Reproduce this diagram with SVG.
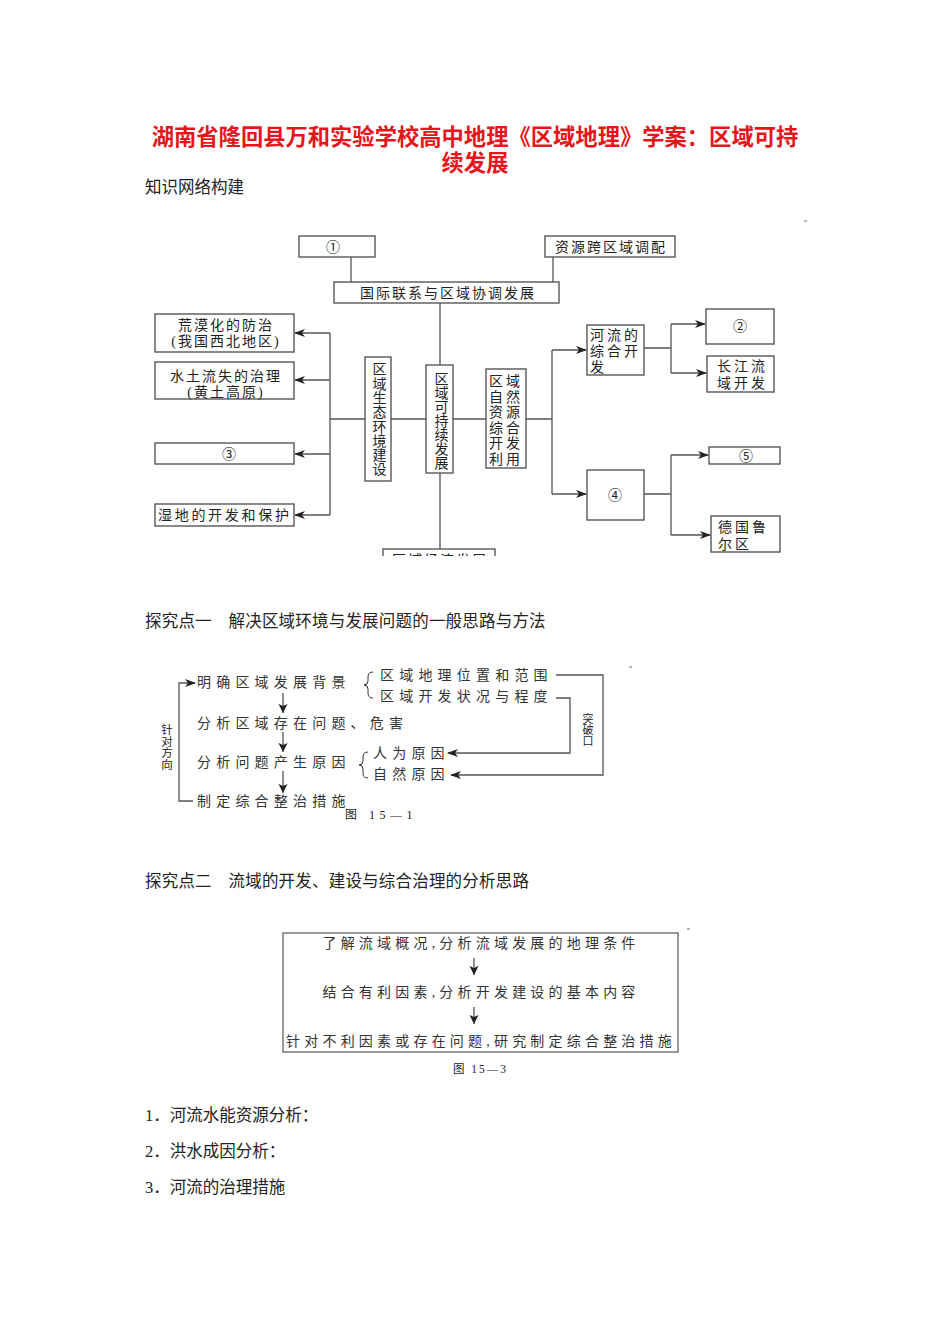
<svg xmlns="http://www.w3.org/2000/svg" width="950" height="1344" viewBox="0 0 950 1344">
<style>
.t{font-family:"Liberation Serif","Noto Sans CJK SC",serif;fill:#222}
.title{font-family:"Liberation Sans","Noto Sans CJK SC",sans-serif;font-weight:bold;font-size:22.3px;fill:#e8141b}
.h{font-size:16.5px}
.n{font-size:14px;letter-spacing:2px}
.v{writing-mode:vertical-rl;glyph-orientation-vertical:0}
.box{fill:#fff;stroke:#4a4a4a;stroke-width:1.3}
.ln{fill:none;stroke:#555;stroke-width:1.3}
.d2{font-size:14px;letter-spacing:5.2px;fill:#333}
.d3{font-size:14px;letter-spacing:4.2px;fill:#333}
</style>
<defs>
<marker id="ah" markerUnits="userSpaceOnUse" markerWidth="11" markerHeight="8" refX="10" refY="4" orient="auto">
<path d="M0,0 L11,4 L0,8 L3,4 z" fill="#222"/>
</marker>
<marker id="ad" markerUnits="userSpaceOnUse" markerWidth="10" markerHeight="10" refX="9" refY="5" orient="auto">
<path d="M0,0.5 L9,5 L0,9.5 L2,5 z" fill="#222"/>
</marker>
<clipPath id="cut"><rect x="0" y="0" width="950" height="556"/></clipPath>
</defs>
<rect width="950" height="1344" fill="#fff"/>

<text class="title" x="475" y="145" text-anchor="middle">湖南省隆回县万和实验学校高中地理《区域地理》学案：区域可持</text>
<text class="title" x="475" y="171" text-anchor="middle">续发展</text>
<text class="t h" x="145" y="193">知识网络构建</text>

<!-- Diagram 1 connectors -->
<g id="connectors1">
<path class="ln" d="M351,257 V282 M553,257 V282 M440,303 V365 M440,473 V549 M330,419 H365 M391,419 H426 M453,419 H486 M526,419 H552 M330,333 V515 M552,350 V494 M644,348 H671 M671,324 V373 M644,494 H671 M671,455 V535"/>
<path class="ln" d="M330,333 H295" marker-end="url(#ah)"/>
<path class="ln" d="M330,380 H295" marker-end="url(#ah)"/>
<path class="ln" d="M330,454 H295" marker-end="url(#ah)"/>
<path class="ln" d="M330,515 H295" marker-end="url(#ah)"/>
<path class="ln" d="M552,350 H586" marker-end="url(#ah)"/>
<path class="ln" d="M552,494 H586" marker-end="url(#ah)"/>
<path class="ln" d="M671,324 H705" marker-end="url(#ah)"/>
<path class="ln" d="M671,373 H706" marker-end="url(#ah)"/>
<path class="ln" d="M671,455 H708" marker-end="url(#ah)"/>
<path class="ln" d="M671,535 H710" marker-end="url(#ah)"/>
</g>

<g id="n1"><rect class="box" x="299" y="236" width="76" height="21"/><text class="t" x="333" y="252" font-size="14" text-anchor="middle">①</text></g>
<g id="n-ziyuan"><rect class="box" x="545" y="236" width="130" height="21"/><text class="t n" x="611" y="252" text-anchor="middle">资源跨区域调配</text></g>
<g id="n-guoji"><rect class="box" x="334" y="282" width="225" height="21"/><text class="t n" x="448" y="298" text-anchor="middle">国际联系与区域协调发展</text></g>
<g id="n-kechixu"><rect class="box" x="426" y="365" width="27" height="108"/>
<text class="t v" x="440" y="372" font-size="14">区域可持续发展</text></g>
<g id="n-shengtai"><rect class="box" x="365" y="357" width="26" height="124"/>
<text class="t v" x="378" y="362" font-size="14" letter-spacing="0.3">区域生态环境建设</text></g>
<g id="n-ziran"><rect class="box" x="486" y="369" width="40" height="99"/>
<text class="t" font-size="14" letter-spacing="3"><tspan x="489" y="386">区域</tspan><tspan x="489" y="401.5">自然</tspan><tspan x="489" y="417">资源</tspan><tspan x="489" y="432.5">综合</tspan><tspan x="489" y="448">开发</tspan><tspan x="489" y="463.5">利用</tspan></text></g>
<g id="n-huangmo"><rect class="box" x="155" y="314" width="139" height="38"/>
<text class="t n" text-anchor="middle"><tspan x="226" y="330">荒漠化的防治</tspan><tspan x="226" y="346">(我国西北地区)</tspan></text></g>
<g id="n-shuitu"><rect class="box" x="155" y="362" width="139" height="37"/>
<text class="t n" text-anchor="middle"><tspan x="226" y="381">水土流失的治理</tspan><tspan x="226" y="397">(黄土高原)</tspan></text></g>
<g id="n3"><rect class="box" x="155" y="443" width="139" height="21"/><text class="t" x="229" y="459" font-size="14" text-anchor="middle">③</text></g>
<g id="n-shidi"><rect class="box" x="155" y="504" width="139" height="22"/><text class="t" x="158" y="520" font-size="14" letter-spacing="2.7">湿地的开发和保护</text></g>
<g id="n-bottom" clip-path="url(#cut)"><rect class="box" x="383" y="549" width="112" height="22"/><text class="t n" x="440" y="565" text-anchor="middle">区域经济发展</text></g>
<g id="n-heliu"><rect class="box" x="587" y="325" width="57" height="50"/>
<text class="t" font-size="14" letter-spacing="3"><tspan x="590" y="340">河流的</tspan><tspan x="590" y="356">综合开</tspan><tspan x="590" y="372">发</tspan></text></g>
<g id="n4"><rect class="box" x="587" y="470" width="57" height="50"/><text class="t" x="615" y="500" font-size="14" text-anchor="middle">④</text></g>
<g id="n2"><rect class="box" x="706" y="309" width="68" height="35"/><text class="t" x="740" y="331" font-size="14" text-anchor="middle">②</text></g>
<g id="n-changjiang"><rect class="box" x="707" y="356" width="67" height="36"/>
<text class="t" font-size="14" letter-spacing="3"><tspan x="717" y="371">长江流</tspan><tspan x="717" y="388">域开发</tspan></text></g>
<g id="n5"><rect class="box" x="709" y="447" width="71" height="17"/><text class="t" x="746" y="461" font-size="14" text-anchor="middle">⑤</text></g>
<g id="n-ruhr"><rect class="box" x="711" y="516" width="69" height="36"/>
<text class="t" font-size="14" letter-spacing="3"><tspan x="718" y="532">德国鲁</tspan><tspan x="718" y="549">尔区</tspan></text></g>
<path d="M804,221 H807" stroke="#666" stroke-width="1"/>

<text class="t h" x="145" y="627" letter-spacing="0.2">探究点一　解决区域环境与发展问题的一般思路与方法</text>

<!-- Diagram 2 -->
<g id="connectors2">
<path class="ln" d="M193,801 H179 V683 H195" marker-end="url(#ah)"/>
<path class="ln" d="M283,693 V713" marker-end="url(#ad)"/>
<path class="ln" d="M283,732 V752" marker-end="url(#ad)"/>
<path class="ln" d="M283,771 V793" marker-end="url(#ad)"/>
<path class="ln" d="M556,675 H603 V775 H451" marker-end="url(#ah)"/>
<path class="ln" d="M556,698 H570 V753 H448" marker-end="url(#ah)"/>
<path fill="none" stroke="#333" stroke-width="1" d="M373,672 Q368,672 368,677 V681 Q368,685 364,685 Q368,685 368,689 V693 Q368,698 373,698"/>
<path fill="none" stroke="#333" stroke-width="1" d="M368,752 Q363,752 363,757 V761 Q363,765 359,765 Q363,765 363,769 V773 Q363,778 368,778"/>
</g>
<g id="s-zhendui"><text class="t v" x="166" y="724" font-size="11.5" fill="#333">针对方向</text></g>
<g id="s-mingque"><text class="t d2" x="197" y="687">明确区域发展背景</text></g>
<g id="s-fenxi1"><text class="t d2" x="197" y="728">分析区域存在问题、危害</text></g>
<g id="s-fenxi2"><text class="t d2" x="197" y="767">分析问题产生原因</text></g>
<g id="s-zhiding"><text class="t d2" x="197" y="806">制定综合整治措施</text></g>
<g id="s-weizhi"><text class="t d2" x="380" y="680">区域地理位置和范围</text></g>
<g id="s-kaifa"><text class="t d2" x="380" y="701">区域开发状况与程度</text></g>
<g id="s-renwei"><text class="t d2" x="373" y="758">人为原因</text></g>
<g id="s-ziran"><text class="t d2" x="373" y="779">自然原因</text></g>
<g id="s-tupo"><text class="t v" x="587" y="713" font-size="11" fill="#333">突破口</text></g>
<text class="t" x="345" y="819" font-size="12" letter-spacing="4.5" fill="#333">图 15—1</text>
<path d="M629,667 H632" stroke="#666" stroke-width="1"/>

<text class="t h" x="145" y="887" letter-spacing="0.2">探究点二　流域的开发、建设与综合治理的分析思路</text>

<!-- Diagram 3 -->
<g id="f3-box"><rect x="283" y="933" width="395" height="119" fill="none" stroke="#555" stroke-width="1.2"/></g>
<g id="connectors3">
<path class="ln" d="M474,958 V975" marker-end="url(#ad)"/>
<path class="ln" d="M474,1007 V1024" marker-end="url(#ad)"/>
</g>
<g id="f3-1"><text class="t d3" x="481" y="948" text-anchor="middle">了解流域概况,分析流域发展的地理条件</text></g>
<g id="f3-2"><text class="t d3" x="481" y="997" text-anchor="middle">结合有利因素,分析开发建设的基本内容</text></g>
<g id="f3-3"><text class="t d3" x="481" y="1046" text-anchor="middle">针对不利因素或存在问题,研究制定综合整治措施</text></g>
<text class="t" x="453" y="1073" font-size="11.5" letter-spacing="2" fill="#333">图 15—3</text>
<path d="M687,929 H690" stroke="#666" stroke-width="1"/>

<text class="t h" x="145" y="1121">1．河流水能资源分析：</text>
<text class="t h" x="145" y="1157">2．洪水成因分析：</text>
<text class="t h" x="145" y="1193">3．河流的治理措施</text>
</svg>
